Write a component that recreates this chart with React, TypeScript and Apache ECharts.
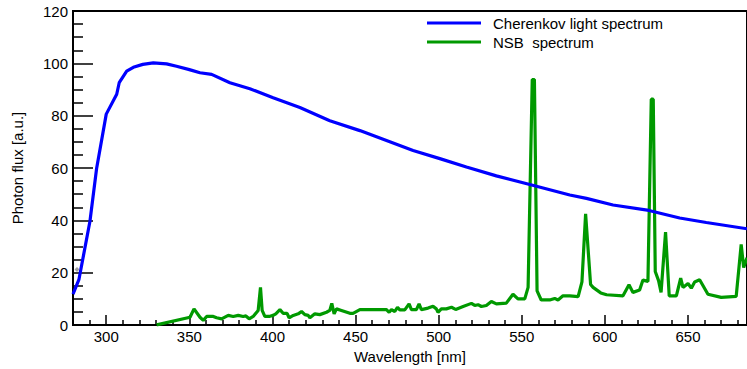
import React, { useEffect, useRef } from "react";
import * as echarts from "echarts";

// Cherenkov light spectrum (wavelength nm, photon flux a.u.)
const cherenkovWl = [280, 283.6, 290.2, 294.2, 300, 306.3, 307.8, 312.3, 316.3, 322, 328.3, 336.3, 342.3, 350, 356.4, 363.4, 374.4, 386.4, 400.4, 416.5, 434.5, 452.6, 468.6, 484.6, 500.7, 516.7, 534.7, 554.8, 578.9, 588.9, 604.9, 626.5, 645, 661, 685.5];
const cherenkovFlux = [11.8, 17.5, 39.7, 59.8, 80.6, 88.2, 92.6, 97, 98.5, 99.6, 100.2, 99.8, 98.9, 97.6, 96.4, 95.8, 92.6, 90.3, 86.9, 83.1, 78.1, 74.3, 70.5, 66.7, 63.6, 60.4, 57.0, 53.7, 49.7, 48.4, 45.9, 43.8, 40.9, 39.2, 36.8];

// Night sky background spectrum
const nsbWl = [330.3, 350.4, 352.8, 356.4, 358.4, 360.4, 364.4, 366.4, 369.4, 373.4, 376.4, 379.4, 382.4, 384, 386, 388.4, 391.4, 392.8, 393.8, 395.4, 398, 400.4, 402, 404.5, 406.4, 408.8, 410, 412.5, 415.5, 417.5, 419.5, 421.5, 422.5, 425.5, 428.5, 432.5, 434.5, 435.7, 437.1, 438.5, 441.5, 446.6, 448.5, 452.6, 468.6, 470.2, 471.6, 473.6, 475.2, 476.6, 479.6, 482.2, 483.6, 486.6, 488.2, 489.6, 493.6, 496.6, 498.6, 499.6, 501.6, 504.6, 507.7, 510.2, 514.7, 519.7, 521.7, 523.7, 525.7, 528.7, 531.7, 534.7, 540.7, 544.7, 547.7, 551.8, 553.8, 556.3, 557.6, 559.2, 561.7, 566.8, 569.8, 571.8, 574.8, 578.9, 583.9, 586.2, 588.4, 591.4, 592.9, 597.5, 601, 610.9, 614.5, 616.9, 620.9, 622.9, 625.9, 627.9, 629.1, 630.3, 632.3, 633.8, 636.5, 638.7, 643, 645.6, 647, 650, 652, 654, 657, 662, 670, 679, 682, 683.5, 685.5];
const nsbFlux = [0.1, 3.0, 6.2, 3.0, 1.8, 3.3, 3.3, 2.8, 2.4, 3.7, 3.3, 3.7, 3.3, 3.5, 2.4, 3.3, 5.6, 14.4, 5.6, 3.3, 3.3, 3.7, 4.3, 5.9, 4.5, 4.5, 2.8, 3.7, 4.3, 5.2, 4.0, 3.7, 2.8, 4.3, 4.0, 4.9, 5.6, 8.3, 4.3, 6.2, 5.6, 4.5, 4.5, 5.9, 5.9, 4.9, 5.9, 5.2, 6.8, 5.8, 5.8, 8.1, 5.9, 5.9, 8.1, 5.9, 6.5, 7.2, 6.2, 4.9, 6.2, 6.2, 6.8, 6.0, 7.1, 8.3, 7.5, 7.8, 7.1, 7.5, 9.0, 8.1, 8.4, 11.8, 10.0, 10.0, 14.4, 93.8, 93.8, 13.1, 9.6, 9.6, 10.2, 9.6, 11.2, 11.2, 10.9, 16.5, 42.5, 15.5, 14.4, 12.3, 11.6, 11.2, 15.4, 12.5, 13.4, 17.2, 16.7, 86.3, 86.3, 20.5, 17, 12.5, 35.5, 11.2, 11.2, 17.9, 14.4, 15.9, 14.1, 16.5, 17.3, 11.8, 10.6, 11.0, 30.8, 22, 25.7];

// stray grey marker
const strayPoint = [282.4, 21.2];

const xMajorTicks = [300, 350, 400, 450, 500, 550, 600, 650];
const xMinorTicks = [280, 290, 310, 320, 330, 340, 360, 370, 380, 390, 410, 420, 430, 440, 460, 470, 480, 490, 510, 520, 530, 540, 560, 570, 580, 590, 610, 620, 630, 640, 660, 670, 680];

const seriesNames = ["Cherenkov light spectrum", "NSB\u00a0 spectrum"];

const FONT = "'Liberation Sans', Arial, Helvetica, sans-serif";

export default function App() {
  const ref = useRef<HTMLDivElement>(null);
  useEffect(() => {
    document.body.style.margin = "0";
    document.body.style.overflow = "hidden";
    const chart = echarts.init(ref.current!, null, { renderer: "svg" });
    const xMin = 280;
    const xMax = 685.5;
    chart.setOption({
      animation: false,
      textStyle: { fontFamily: FONT },
      grid: {
        left: 73,
        right: 3,
        top: 11,
        bottom: 41,
        show: true,
        borderColor: "#000",
        borderWidth: 2,
        backgroundColor: "transparent",
      },
      legend: {
        orient: "vertical",
        left: 427,
        top: 14,
        padding: 0,
        itemGap: 1,
        itemWidth: 54,
        itemHeight: 3,
        icon: "rect",
        textStyle: { fontSize: 15, color: "#000", fontFamily: FONT, padding: [0, 0, 0, 7], lineHeight: 18 },
        data: seriesNames,
      },
      xAxis: [
        {
          type: "value",
          min: xMin,
          max: xMax,
          position: "bottom",
          axisLine: { onZero: false, lineStyle: { color: "#000", width: 2 } },
          axisTick: { show: true, inside: true, length: 10, customValues: xMajorTicks, lineStyle: { color: "#000", width: 1.5 } },
          axisLabel: { customValues: xMajorTicks, fontSize: 15, color: "#000", margin: 4, fontFamily: FONT },
          splitLine: { show: false },
          name: "Wavelength [nm]",
          nameLocation: "middle",
          nameGap: 19,
          nameTextStyle: { fontSize: 15, color: "#000", fontFamily: FONT },
        },
        {
          type: "value",
          min: xMin,
          max: xMax,
          position: "bottom",
          axisLine: { show: false, onZero: false },
          axisTick: { show: true, inside: true, length: 5, customValues: xMinorTicks, lineStyle: { color: "#000", width: 1.5 } },
          axisLabel: { show: false },
          splitLine: { show: false },
        },
      ],
      yAxis: {
        type: "value",
        min: 0,
        max: 120,
        interval: 20,
        axisLine: { show: true, onZero: false, lineStyle: { color: "#000", width: 2 } },
        axisTick: { show: true, inside: true, length: 20, lineStyle: { color: "#000", width: 1.5 } },
        minorTick: { show: true, splitNumber: 4, length: 10, lineStyle: { color: "#000", width: 1.5 } },
        axisLabel: { fontSize: 15, color: "#000", margin: 5, fontFamily: FONT },
        splitLine: { show: false },
        name: "Photon flux [a.u.]",
        nameLocation: "middle",
        nameGap: 48,
        nameTextStyle: { fontSize: 15, color: "#000", fontFamily: FONT },
      },
      series: [
        {
          name: seriesNames[0],
          type: "line",
          xAxisIndex: 0,
          showSymbol: false,
          symbol: "none",
          color: "#0000ff",
          lineStyle: { color: "#0000ff", width: 3.2 },
          data: cherenkovWl.map((w, i) => [w, cherenkovFlux[i]]),
          z: 3,
        },
        {
          name: seriesNames[1],
          type: "line",
          xAxisIndex: 0,
          showSymbol: false,
          symbol: "none",
          color: "#009900",
          lineStyle: { color: "#009900", width: 3.2 },
          data: nsbWl.map((w, i) => [w, nsbFlux[i]]),
          z: 2,
        },
        {
          name: "stray",
          type: "scatter",
          xAxisIndex: 0,
          symbol: "diamond",
          symbolSize: 5,
          itemStyle: { color: "#888" },
          data: [strayPoint],
          z: 4,
        },
      ],
    });
    return () => chart.dispose();
  }, []);
  return <div ref={ref} style={{ width: 750, height: 369 }} />;
}
